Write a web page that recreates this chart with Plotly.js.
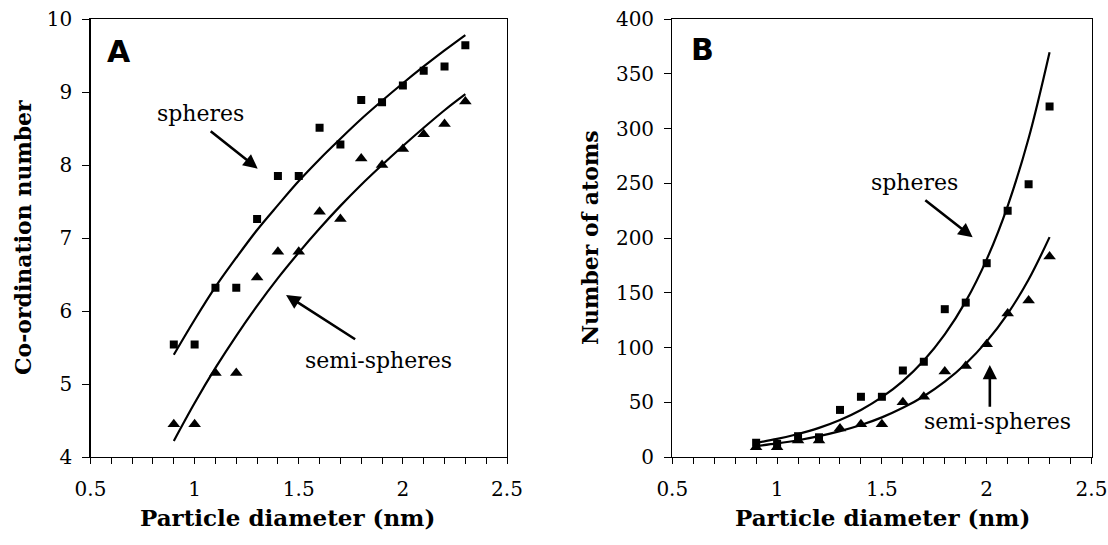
<!DOCTYPE html>
<html>
<head>
<meta charset="utf-8">
<script src="https://cdn.plot.ly/plotly-3.0.1.min.js"></script>
<style>
html,body{margin:0;padding:0;background:#fff;}
#chart{width:1108px;height:545px;}
</style>
</head>
<body>
<div id="chart"></div>
<script>
// Particle diameters (nm)
const diameters = [0.9, 1.0, 1.1, 1.2, 1.3, 1.4, 1.5, 1.6, 1.7, 1.8, 1.9, 2.0, 2.1, 2.2, 2.3];

// Panel A: co-ordination number
const coordSpheres     = [5.54, 5.54, 6.32, 6.32, 7.26, 7.85, 7.85, 8.51, 8.28, 8.89, 8.86, 9.09, 9.29, 9.35, 9.64];
const coordSemi        = [4.45, 4.45, 5.15, 5.15, 6.46, 6.81, 6.81, 7.36, 7.26, 8.09, 8.00, 8.22, 8.42, 8.56, 8.87];
const coordSpheresFit  = [5.40, 5.88, 6.33, 6.73, 7.11, 7.45, 7.78, 8.08, 8.36, 8.63, 8.88, 9.12, 9.35, 9.57, 9.78];
const coordSemiFit     = [4.22, 4.74, 5.22, 5.66, 6.07, 6.45, 6.80, 7.13, 7.44, 7.73, 8.00, 8.26, 8.51, 8.75, 8.97];

// Panel B: number of atoms
const atomsSpheres     = [13, 12, 19, 18, 43, 55, 55, 79, 87, 135, 141, 177, 225, 249, 320];
const atomsSemi        = [9, 9, 15, 15, 26, 30, 30, 50, 55, 78, 83, 103, 131, 143, 183];
const atomsSpheresFit  = [13, 16.5, 21, 26.6, 33.8, 43, 54.6, 69.3, 88.1, 111.9, 142.1, 180.5, 229.2, 291.1, 369.7];
const atomsSemiFit     = [10, 12.4, 15.3, 19, 23.6, 29.2, 36.2, 44.9, 55.5, 68.8, 85.2, 105.6, 130.8, 162.1, 200.8];

const xTitle = 'Particle diameter (nm)';
const yTitleA = 'Co-ordination number';
const yTitleB = 'Number of atoms';
const labelSpheres = 'spheres';
const labelSemi = 'semi-spheres';

const serif = 'DejaVu Serif';
const sq = {symbol: 'square', size: 8, color: '#000'};
const tri = {symbol: 'triangle-up', size: 11, color: '#000'};
const ln = {color: '#000', width: 2.2, shape: 'spline'};

const traces = [
  {x: diameters, y: coordSpheresFit, mode: 'lines', line: ln, xaxis: 'x', yaxis: 'y', hoverinfo: 'skip'},
  {x: diameters, y: coordSemiFit, mode: 'lines', line: ln, xaxis: 'x', yaxis: 'y', hoverinfo: 'skip'},
  {x: diameters, y: coordSpheres, mode: 'markers', marker: sq, xaxis: 'x', yaxis: 'y', name: 'spheres'},
  {x: diameters, y: coordSemi, mode: 'markers', marker: tri, xaxis: 'x', yaxis: 'y', name: 'semi-spheres'},
  {x: diameters, y: atomsSpheresFit, mode: 'lines', line: ln, xaxis: 'x2', yaxis: 'y2', hoverinfo: 'skip'},
  {x: diameters, y: atomsSemiFit, mode: 'lines', line: ln, xaxis: 'x2', yaxis: 'y2', hoverinfo: 'skip'},
  {x: diameters, y: atomsSpheres, mode: 'markers', marker: sq, xaxis: 'x2', yaxis: 'y2', name: 'spheres'},
  {x: diameters, y: atomsSemi, mode: 'markers', marker: tri, xaxis: 'x2', yaxis: 'y2', name: 'semi-spheres'}
];

const tickFont = {family: serif, size: 20, color: '#000'};
const xTitleFont = {family: serif, size: 23, color: '#000', weight: 'bold'};
const yTitleFont = {family: serif, size: 22, color: '#000', weight: 'bold'};

function xAxis(domain, anchor) {
  return {
    domain: domain, anchor: anchor, range: [0.5, 2.5], dtick: 0.5, tick0: 0.5,
    showgrid: false, zeroline: false, showline: true, mirror: true, linecolor: '#000', linewidth: 1.2,
    ticks: 'outside', ticklen: 6, tickcolor: '#000', tickwidth: 1,
    minor: {dtick: 0.1, tick0: 0.5, ticks: 'outside', ticklen: 6, tickcolor: '#000', tickwidth: 1, showgrid: false},
    tickfont: tickFont, ticklabelstandoff: 8, automargin: false,
    title: {text: ''}
  };
}
function yAxis(range, dtick, anchor) {
  return {
    domain: [0, 1], anchor: anchor, range: range, dtick: dtick,
    showgrid: false, zeroline: false, showline: true, mirror: true, linecolor: '#000', linewidth: 1.2,
    ticks: 'outside', ticklen: 7, tickcolor: '#000', tickwidth: 1,
    tickfont: tickFont, ticklabelstandoff: 6, automargin: false,
    title: {text: ''}
  };
}

const txt = (s) => ({text: s, font: {family: serif, size: 22, color: '#000'}});
const arrowStyle = {text: '', showarrow: true, arrowhead: 2, arrowsize: 1.1, arrowwidth: 2.6, arrowcolor: '#000'};
const panelFont = {family: 'DejaVu Sans', size: 30, color: '#000', weight: 'bold'};
const titleY = -60 / 438;

const annotations = [
  // panel labels
  {xref: 'x', yref: 'y', x: 0.638, y: 9.55, text: 'A', showarrow: false, font: panelFont},
  {xref: 'x2', yref: 'y2', x: 0.645, y: 371.7, text: 'B', showarrow: false, font: panelFont},
  // panel A labels
  Object.assign({xref: 'x', yref: 'y', x: 1.026, y: 8.71, showarrow: false}, txt(labelSpheres)),
  Object.assign({xref: 'x', yref: 'y', x: 1.882, y: 5.32, showarrow: false}, txt(labelSemi)),
  Object.assign({xref: 'x', yref: 'y', axref: 'x', ayref: 'y', x: 1.303, y: 7.95, ax: 1.070, ay: 8.48}, arrowStyle),
  Object.assign({xref: 'x', yref: 'y', axref: 'x', ayref: 'y', x: 1.439, y: 6.22, ax: 1.778, ay: 5.60}, arrowStyle),
  // panel B labels
  Object.assign({xref: 'x2', yref: 'y2', x: 1.656, y: 250.5, showarrow: false}, txt(labelSpheres)),
  Object.assign({xref: 'x2', yref: 'y2', x: 2.051, y: 32.2, showarrow: false}, txt(labelSemi)),
  Object.assign({xref: 'x2', yref: 'y2', axref: 'x2', ayref: 'y2', x: 1.933, y: 200.6, ax: 1.700, ay: 235.6}, arrowStyle),
  Object.assign({xref: 'x2', yref: 'y2', axref: 'x2', ayref: 'y2', x: 2.015, y: 84, ax: 2.015, ay: 44.5}, arrowStyle),
  // x axis titles
  {xref: 'paper', yref: 'paper', x: 287 / 1108, y: titleY, xanchor: 'center', yanchor: 'middle', text: xTitle, showarrow: false, font: xTitleFont},
  {xref: 'paper', yref: 'paper', x: 882 / 1108, y: titleY, xanchor: 'center', yanchor: 'middle', text: xTitle, showarrow: false, font: xTitleFont},
  // y axis titles (rotated)
  {xref: 'paper', yref: 'paper', x: 23 / 1108, y: 0.5, xanchor: 'center', yanchor: 'middle', textangle: -90, text: yTitleA, showarrow: false, font: yTitleFont},
  {xref: 'paper', yref: 'paper', x: 590 / 1108, y: 0.5, xanchor: 'center', yanchor: 'middle', textangle: -90, text: yTitleB, showarrow: false, font: yTitleFont}
];

const layout = {
  width: 1108, height: 545,
  margin: {l: 0, r: 0, t: 19, b: 88, pad: 0},
  paper_bgcolor: '#fff', plot_bgcolor: '#fff',
  font: {family: serif, color: '#000'},
  showlegend: false,
  xaxis: xAxis([90.5 / 1108, 507 / 1108], 'y'),
  yaxis: yAxis([4, 10], 1, 'x'),
  xaxis2: xAxis([672.3 / 1108, 1091.5 / 1108], 'y2'),
  yaxis2: yAxis([0, 400], 50, 'x2'),
  annotations: annotations
};

Plotly.newPlot('chart', traces, layout, {displayModeBar: false, staticPlot: true});
</script>
</body>
</html>
